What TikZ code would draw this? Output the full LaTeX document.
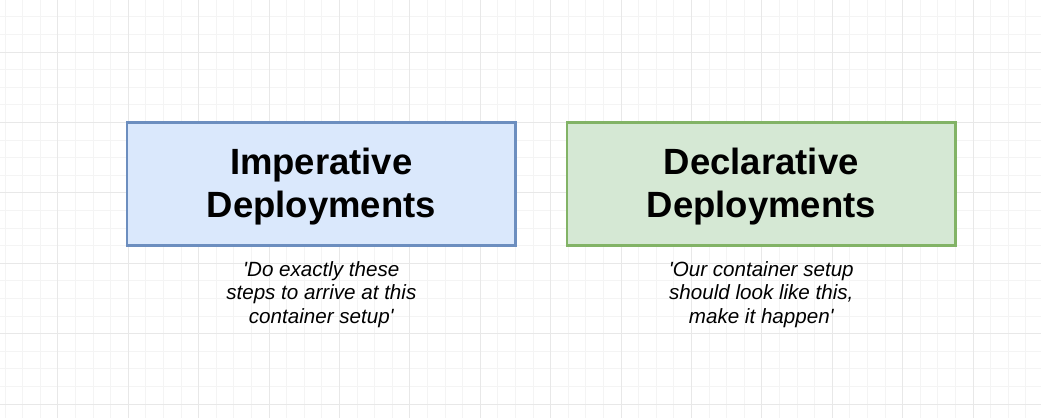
\documentclass[tikz,border=0pt]{standalone}
\usepackage{fontspec}
\setmainfont{Liberation Sans}
\usetikzlibrary{positioning}

\definecolor{gridminor}{HTML}{F4F4F4}
\definecolor{gridmajor}{HTML}{E8E8E8}
\definecolor{impfill}{HTML}{DAE8FC}
\definecolor{impdraw}{HTML}{6C8EBF}
\definecolor{decfill}{HTML}{D5E8D4}
\definecolor{decdraw}{HTML}{82B366}

\tikzset{
  deploybox/.style={draw, rectangle, line width=2.7pt, minimum width=388.7pt, minimum height=123pt, inner sep=0pt},
  deploytitle/.style={align=center, inner sep=0pt, font=\fontsize{36.5}{43.5}\selectfont\bfseries},
  deployquote/.style={align=center, inner sep=0pt, font=\fontsize{20.6}{23.7}\selectfont\itshape},
  gridline/.style={line width=1pt, gridminor},
  gridmain/.style={line width=1pt, gridmajor}
}

\begin{document}
\begin{tikzpicture}[x=1pt, y=-1pt]
  % Canvas
  \fill[white] (0,0) rectangle (1041,418);
  \useasboundingbox (0,0) rectangle (1041,418);
  % Background grid
  \foreach \gx in {5,22.6,...,1041} \draw[gridline] (\gx,0) -- (\gx,418);
  \foreach \gy in {16.8,34.4,...,418} \draw[gridline] (0,\gy) -- (1041,\gy);
  \foreach \gx in {57.8,128.2,...,1041} \draw[gridmain] (\gx,0) -- (\gx,418);
  \foreach \gy in {52,122.4,...,418} \draw[gridmain] (0,\gy) -- (1041,\gy);
  % Deployment boxes
  \node[deploybox, fill=impfill, draw=impdraw] (imperative) at (321.3,183.8) {};
  \node[deploybox, fill=decfill, draw=decdraw] (declarative) at (761.3,183.8) {};
  \node[deploytitle] (imptitle) at ([yshift=-3pt]imperative.center) {Imperative\\Deployments};
  \node[deploytitle] (dectitle) at ([yshift=-3pt]declarative.center) {Declarative\\Deployments};
  % Quotes
  \node[deployquote, below=14.5pt of imperative] (impquote)
    {\textquotesingle Do exactly these\\steps to arrive at this\\container setup\textquotesingle};
  \node[deployquote, below=14.5pt of declarative] (decquote)
    {\textquotesingle Our container setup\\should look like this,\\make it happen\textquotesingle};
\end{tikzpicture}
\end{document}
